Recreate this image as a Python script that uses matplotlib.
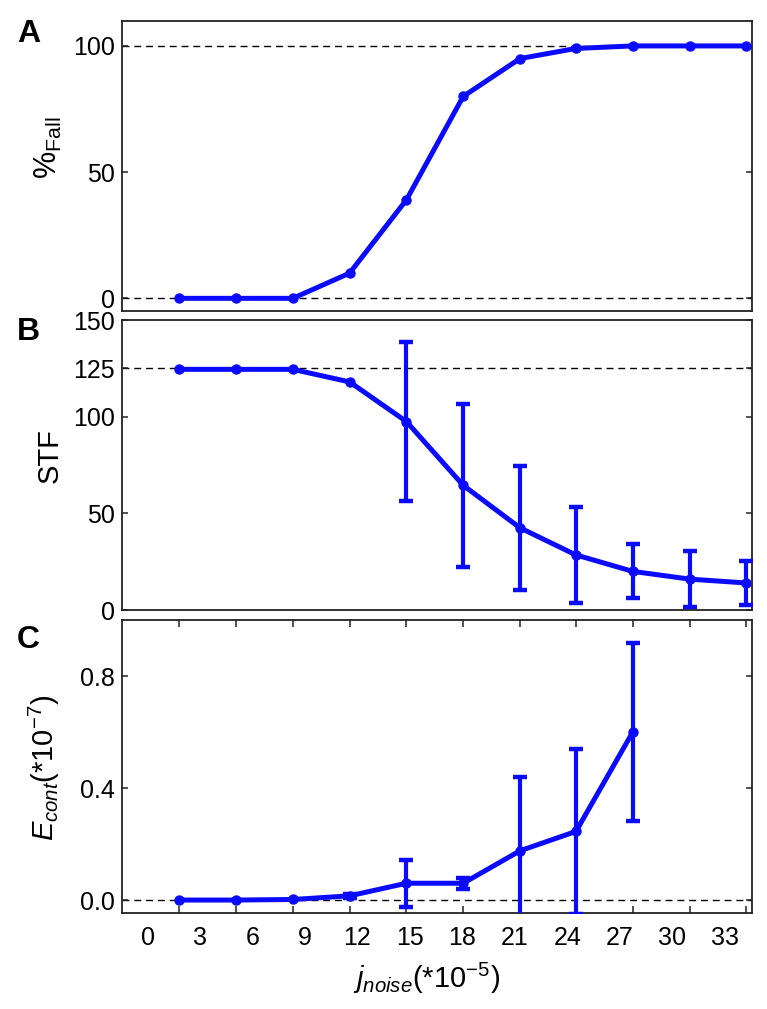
import numpy as np
import matplotlib
matplotlib.use("Agg")
import matplotlib.pyplot as plt

plt.rcParams['font.family'] = ['Liberation Sans', 'DejaVu Sans']
plt.rcParams['mathtext.fontset'] = 'custom'
plt.rcParams['mathtext.rm'] = 'Liberation Sans'
plt.rcParams['mathtext.it'] = 'Liberation Sans:italic'
plt.rcParams['mathtext.bf'] = 'Liberation Sans:bold'

# data
j_noise = [1.8, 5.05, 8.3, 11.55, 14.8, 18.05, 21.3, 24.5, 27.75, 31.0, 34.25]
pct_fall = [0, 0, 0, 10, 39, 80, 95, 99, 100, 100, 100]
stf = [124.5, 124.5, 124.5, 118, 97.5, 64.5, 42.5, 28.5, 20, 16, 14]
stf_err = [0, 0, 0, 0, 41, 42, 32, 25, 14, 14.5, 11.5]
e_cont = [0.0, 0.0, 0.002, 0.015, 0.06, 0.06, 0.176, 0.245, 0.60]
e_cont_err = [0, 0, 0, 0.008, 0.084, 0.02, 0.262, 0.294, 0.318]
xtick_labels = [0, 3, 6, 9, 12, 15, 18, 21, 24, 27, 30, 33]

BLUE = '#0a0aff'
SPINE = '#222222'
TICK_FS = 18
LABEL_FS = 21


def style_axes(ax):
    for s in ax.spines.values():
        s.set_color(SPINE)
        s.set_linewidth(1.3)
    ax.tick_params(axis='y', which='major', direction='in', length=4.5, width=1.1,
                   left=True, right=True, labelsize=TICK_FS, pad=5, color=SPINE)
    ax.set_xlim(-1.47, 34.57)


def draw_series(ax, x, y, err=None):
    ax.plot(x, y, color=BLUE, lw=3.6, marker='o', ms=6.5, zorder=3)
    if err is not None:
        x = np.asarray(x); y = np.asarray(y); err = np.asarray(err)
        m = err > 0
        ax.errorbar(x[m], y[m], yerr=err[m], fmt='none', ecolor=BLUE,
                    elinewidth=3.0, capsize=5, capthick=3.2, zorder=3)


def dashed(ax, y):
    ax.axhline(y, color='k', lw=1.0, ls=(0, (5, 3.5)), zorder=1)


fig = plt.figure(figsize=(7.67, 10.09), dpi=100)
left, width = 0.1591, 0.8213
axA = fig.add_axes([left, 0.6918, width, 0.2877])
axB = fig.add_axes([left, 0.3954, width, 0.2874])
axC = fig.add_axes([left, 0.0948, width, 0.2907])

# panel A
style_axes(axA)
dashed(axA, 0)
dashed(axA, 100)
draw_series(axA, j_noise, pct_fall)
axA.set_ylim(-5, 110)
axA.set_yticks([0, 50, 100])
axA.set_xticks([])
axA.set_ylabel(r'%$_{\mathrm{Fall}}$', fontsize=LABEL_FS + 1)
axA.yaxis.set_label_coords(-0.092, 0.563)

# panel B
style_axes(axB)
dashed(axB, 125)
draw_series(axB, j_noise, stf, stf_err)
axB.set_ylim(0, 150)
axB.set_yticks([0, 50, 100, 125, 150])
axB.set_xticks([])
axB.set_ylabel('STF', fontsize=LABEL_FS)
axB.yaxis.set_label_coords(-0.092, 0.534)

# panel C
style_axes(axC)
dashed(axC, 0)
draw_series(axC, j_noise[:len(e_cont)], e_cont, e_cont_err)
axC.set_ylim(-0.0475, 1.0)
axC.set_yticks([0.0, 0.4, 0.8])
axC.set_yticklabels(['0.0', '0.4', '0.8'])
axC.set_xticks(xtick_labels)
axC.set_xticklabels([str(v) for v in xtick_labels])
axC.tick_params(axis='x', which='major', length=0, labelsize=TICK_FS, pad=9)
axC.set_xticks(j_noise, minor=True)
axC.tick_params(axis='x', which='minor', direction='in', length=5, width=1.1,
                top=True, bottom=True, color=SPINE)
axC.set_ylabel(r'$E_{cont}$(*10$^{-7}$)', fontsize=LABEL_FS)
axC.yaxis.set_label_coords(-0.095, 0.495)
axC.set_xlabel(r'$j_{noise}$(*10$^{-5}$)', fontsize=LABEL_FS)
axC.xaxis.set_label_coords(0.483, -0.162)

# panel letters
for letter, ypix in (('A', 34), ('B', 332), ('C', 640)):
    fig.text(28.5 / 767, 1 - ypix / 1009, letter, fontsize=23, fontweight='bold',
             ha='center', va='center')

fig.savefig('out.png', dpi=100)
